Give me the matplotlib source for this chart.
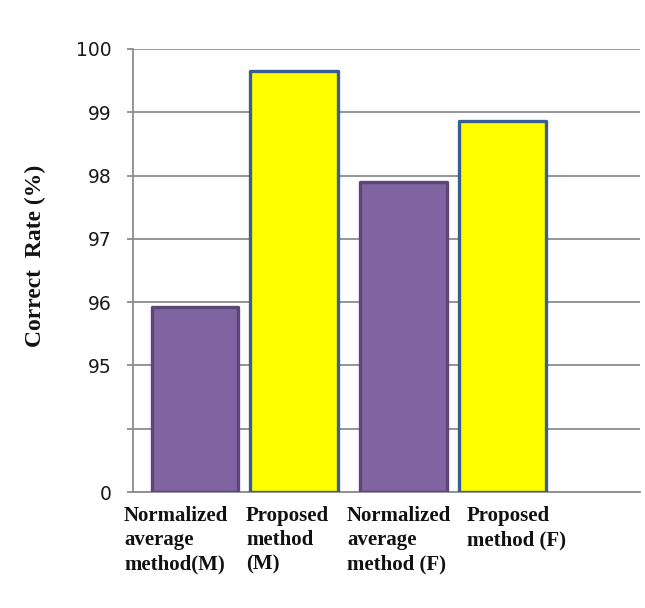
import numpy as np
import matplotlib
matplotlib.use("Agg")
import matplotlib.pyplot as plt

# data
labels = ["Normalized\naverage\nmethod(M)", "Proposed\nmethod\n(M)",
          "Normalized\naverage\nmethod (F)", "Proposed\nmethod (F)"]
values = [95.92, 99.65, 97.90, 98.86]
fill_colors = ["#8064A2", "#FFFF00", "#8064A2", "#FFFF00"]
edge_colors = ["#5C4678", "#3A5F8F", "#5C4678", "#3A5F8F"]
tick_vals = [93, 94, 95, 96, 97, 98, 99, 100]
tick_text = ["0", "", "95", "96", "97", "98", "99", "100"]

fig = plt.figure(figsize=(6.45, 6.08), dpi=100)
ax = fig.add_axes([133/645, 1-492/608, 507/645, 443/608])

# two groups of two bars
grp = np.array([0, 0, 1, 1])
k = np.array([0, 1, 0, 1])
x = 0.62 + grp*2.08 + k*0.99

ax.bar(x, np.array(values)-93, bottom=93, width=0.87, color=fill_colors,
       edgecolor=edge_colors, linewidth=2.4, zorder=3, joinstyle='round')

ax.set_xlim(0, 5.07)
ax.set_ylim(93, 100)
ax.set_yticks(tick_vals)
ax.set_yticklabels(tick_text, fontsize=13.5, family="DejaVu Sans", color="#1a1a1a")
ax.set_xticks([])
ax.grid(axis='y', color="#8c8c8c", linewidth=1.3, zorder=0)
ax.tick_params(axis='y', length=4.5, width=1.3, color="#8c8c8c", pad=11)
for s in ["top", "right"]:
    ax.spines[s].set_visible(False)
for s in ["left", "bottom"]:
    ax.spines[s].set_color("#8c8c8c")
    ax.spines[s].set_linewidth(1.3)

lab_x = [-0.09, 1.13, 2.14, 3.34]
for lx, t in zip(lab_x, labels):
    ax.text(lx, 92.78, t, ha='left', va='top', fontsize=15, fontweight='bold',
            family="Liberation Serif", linespacing=1.28, clip_on=False,
            color="#111111")

fig.text(35/645, 1-256/608, "Correct  Rate (%)", rotation=90, ha='center', va='center',
         fontsize=17, fontweight='bold', family="Liberation Serif", color="#111111")

fig.savefig("out.png", dpi=100)
